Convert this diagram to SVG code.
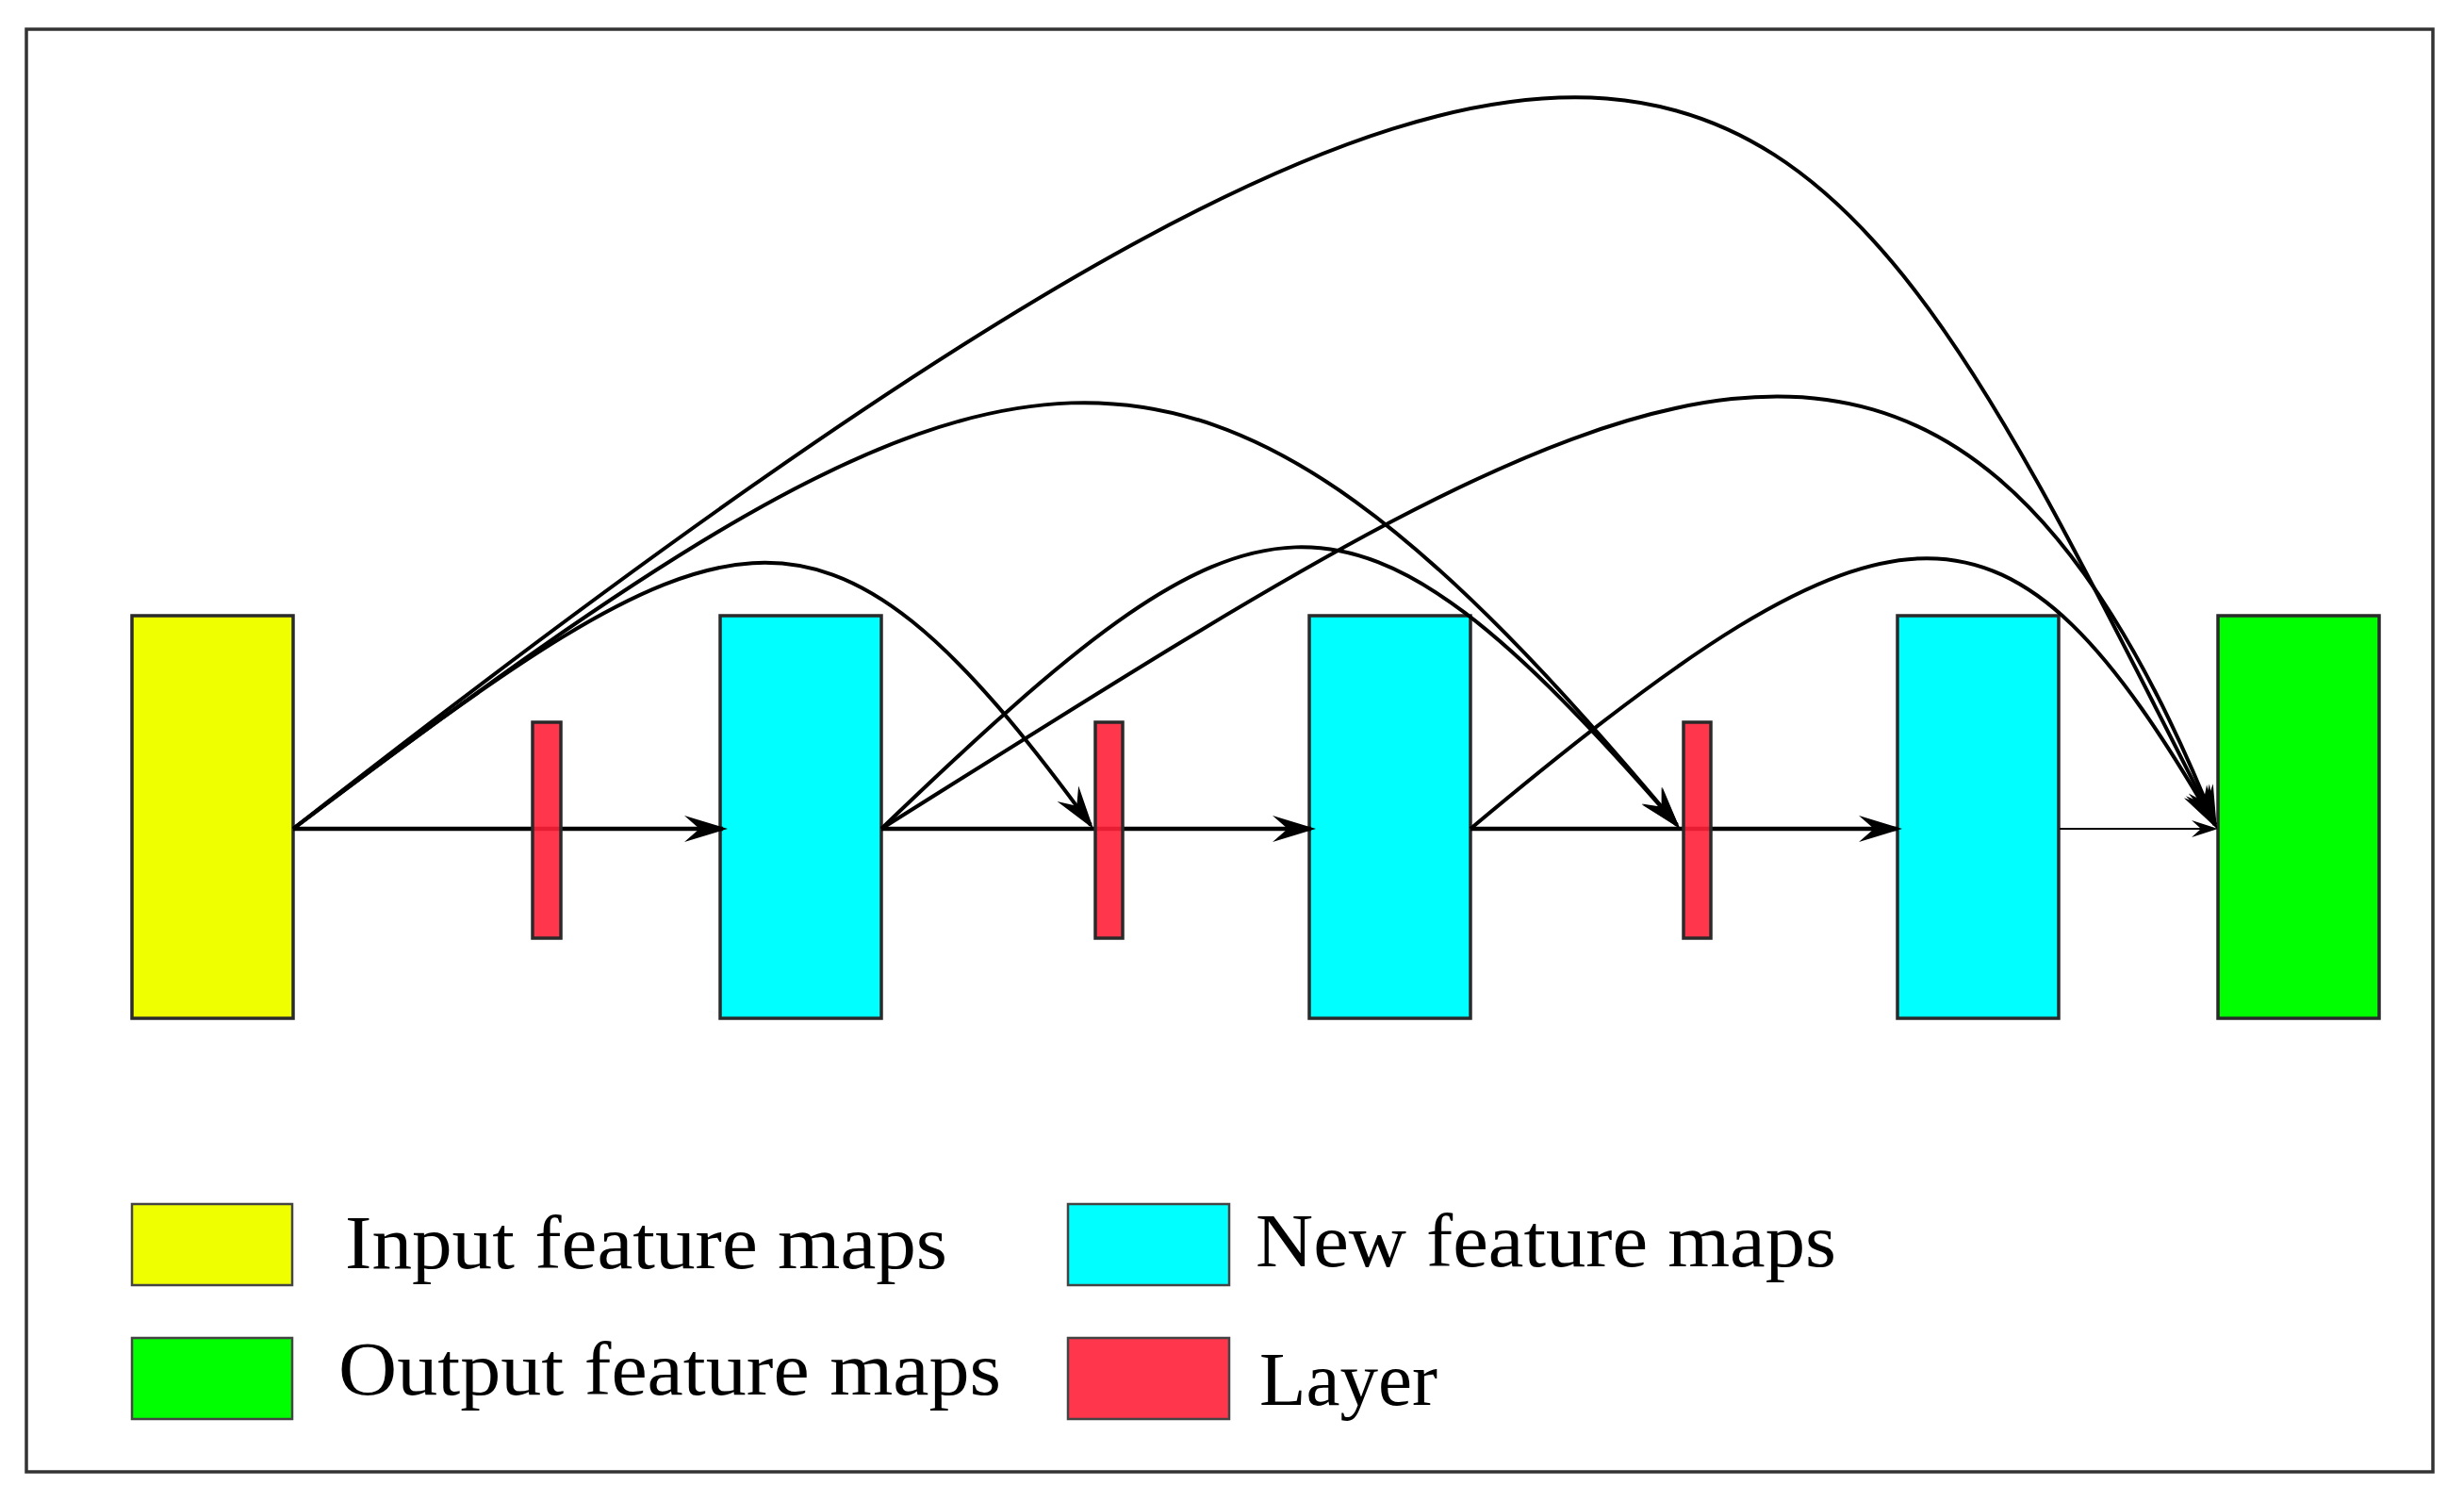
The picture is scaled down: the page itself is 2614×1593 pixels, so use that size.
<svg xmlns="http://www.w3.org/2000/svg" width="2614" height="1593" viewBox="0 0 2614 1593">
<style>
.box{stroke:#2a2a2a;stroke-width:3.5}
.yel{fill:#F0FF00}
.cya{fill:#00FFFF}
.grn{fill:#00FF00}
.red{fill:#FF2038;fill-opacity:0.9}
.lg{stroke:#444;stroke-width:2.5}
.main{fill:none;stroke:#000;stroke-width:4.5;marker-end:url(#ah)}
.thin{fill:none;stroke:#000;stroke-width:2.2;marker-end:url(#ahs)}
.crv{fill:none;stroke:#000;stroke-width:4;marker-end:url(#ah)}
.lbl{font-family:"Liberation Serif","Times New Roman",serif;font-size:80px;fill:#000}
</style>
<defs>
<marker id="ah" markerUnits="userSpaceOnUse" markerWidth="60" markerHeight="40" refX="-5" refY="0" orient="auto" overflow="visible">
<path d="M0,0 L-46,-14 L-30,0 L-46,14 Z" fill="#000"/>
</marker>
<marker id="ahs" markerUnits="userSpaceOnUse" markerWidth="40" markerHeight="30" refX="-3" refY="0" orient="auto" overflow="visible">
<path d="M0,0 L-28,-9 L-18,0 L-28,9 Z" fill="#000"/>
</marker>
</defs>
<rect x="0" y="0" width="2614" height="1593" fill="#fff"/>
<rect id="frame" x="28" y="31" width="2553" height="1530" fill="#fff" stroke="#333" stroke-width="3.5"/>

<g id="input"><rect class="box yel" x="140" y="653" width="171" height="427"/></g>
<g id="new1"><rect class="box cya" x="764" y="653" width="171" height="427"/></g>
<g id="new2"><rect class="box cya" x="1389" y="653" width="171" height="427"/></g>
<g id="new3"><rect class="box cya" x="2013" y="653" width="171" height="427"/></g>
<g id="output"><rect class="box grn" x="2353" y="653" width="171" height="427"/></g>

<g id="connectors">
<path class="main" d="M311,879 H767"/>
<path class="main" d="M935,879 H1391"/>
<path class="main" d="M1560,879 H2013"/>
<path class="thin" d="M2185,879 H2350"/>
<path class="crv" d="M311,879 C772,531 867,477 1157,875"/>
<path class="crv" d="M311,879 C1075,303 1259,252 1779,875"/>
<path class="crv" d="M311,879 C1820,-300 1905,1.5 2350,874.5"/>
<path class="crv" d="M935,879 C1335,495 1425,468 1779,875"/>
<path class="crv" d="M935,879 C1690,406 2058,145 2350,874.4"/>
<path class="crv" d="M1560,879 C2015,497 2131.5,497.7 2349.5,874.7"/>
</g>

<g id="layer1"><rect class="box red" x="565" y="766" width="30" height="229"/></g>
<g id="layer2"><rect class="box red" x="1162" y="766" width="29" height="229"/></g>
<g id="layer3"><rect class="box red" x="1786" y="766" width="29" height="229"/></g>

<g id="legend">
<g id="leg-input"><rect class="lg yel" x="140" y="1277" width="170" height="86"/><text class="lbl" x="366" y="1345" textLength="639" lengthAdjust="spacingAndGlyphs">Input feature maps</text></g>
<g id="leg-output"><rect class="lg grn" x="140" y="1419" width="170" height="86"/><text class="lbl" x="359" y="1479" textLength="703" lengthAdjust="spacingAndGlyphs">Output feature maps</text></g>
<g id="leg-new"><rect class="lg cya" x="1133" y="1277" width="171" height="86"/><text class="lbl" x="1332" y="1343" textLength="616" lengthAdjust="spacingAndGlyphs">New feature maps</text></g>
<g id="leg-layer"><rect class="lg red" x="1133" y="1419" width="171" height="86"/><text class="lbl" x="1336" y="1490" textLength="189" lengthAdjust="spacingAndGlyphs">Layer</text></g>
</g>
</svg>
